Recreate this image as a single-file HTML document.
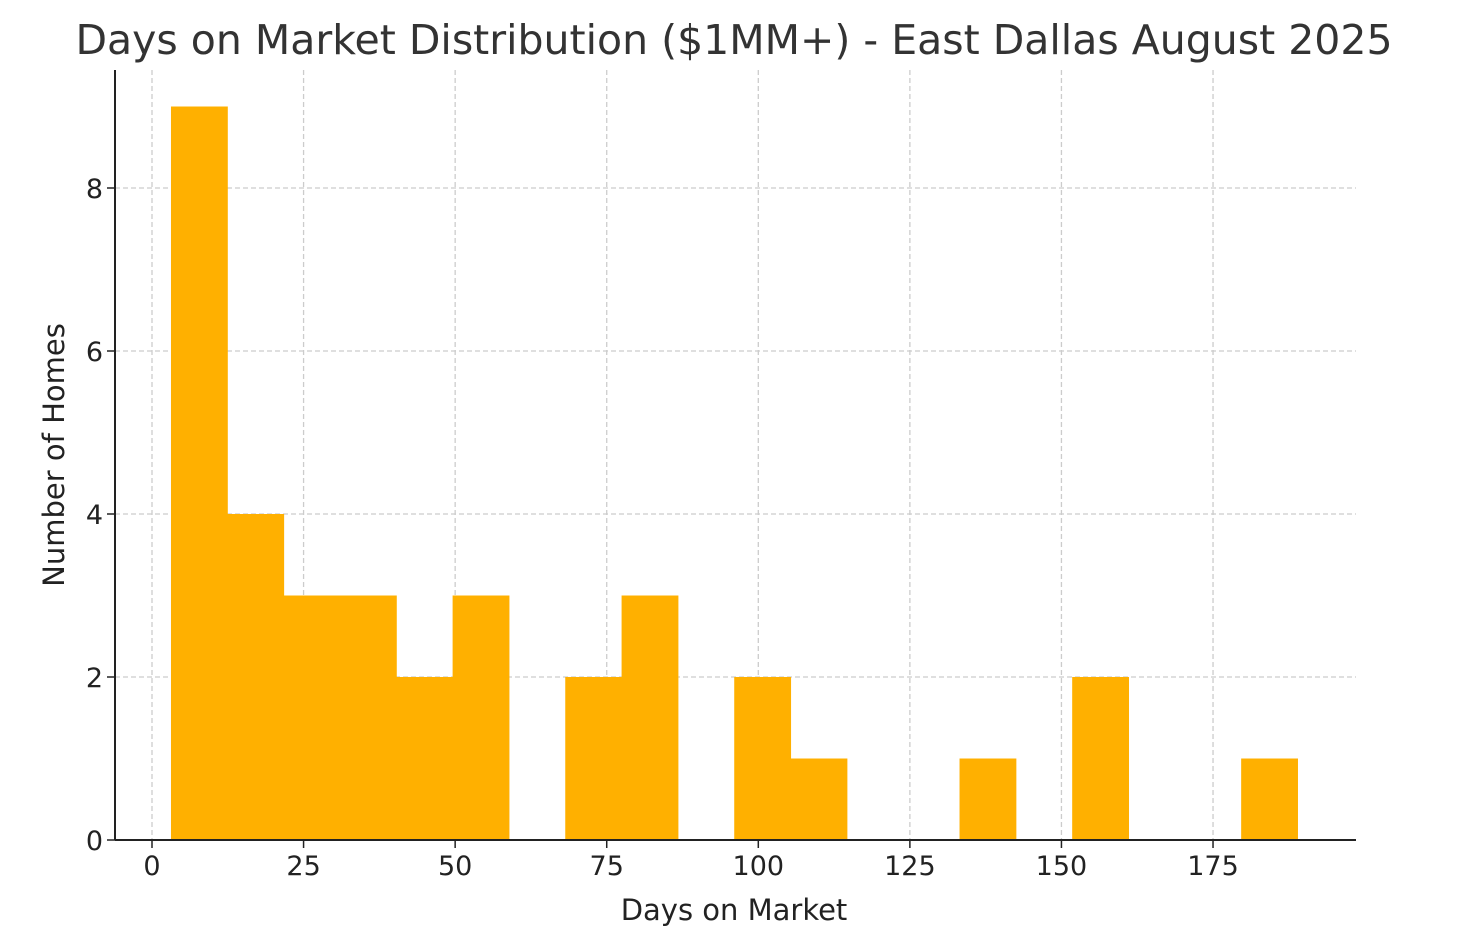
<!DOCTYPE html>
<html><head><meta charset="utf-8"><style>
body{margin:0;background:#fff;}
svg{display:block;font-family:"DejaVu Sans","Liberation Sans",sans-serif;}
</style></head><body>
<svg id="chart" width="1469" height="947">
<text x="734" y="54" text-anchor="middle" font-size="41" fill="#333">Days on Market Distribution ($1MM+) - East Dallas August 2025</text>
<g id="grid"></g><g id="bars"></g><g id="axes"></g>
<text x="734" y="920" text-anchor="middle" font-size="29" fill="#222">Days on Market</text>
<text transform="translate(64,455) rotate(-90)" text-anchor="middle" font-size="29" fill="#222">Number of Homes</text>
</svg>
<script>
const binStart = 3.13;
const binWidth = 9.29;
const counts = [9,4,3,3,2,3,0,2,3,0,2,1,0,0,1,0,2,0,0,1];
const xTicks = [0,25,50,75,100,125,150,175];
const yTicks = [0,2,4,6,8];
const NS='http://www.w3.org/2000/svg';
const L=115,R=1356,T=70,B=840;
const x=v=>152+v*6.063;
const y=v=>840-v*81.5;
function mk(tag,attrs,parent){const e=document.createElementNS(NS,tag);for(const k in attrs)e.setAttribute(k,attrs[k]);document.getElementById(parent).appendChild(e);return e;}
xTicks.forEach(t=>{
 const g=mk('line',{x1:x(t),x2:x(t),y1:T,y2:B,stroke:'#ccc','stroke-width':1.3,'stroke-dasharray':'5,3'},'grid');
 
 
 const tk=mk('line',{x1:x(t),x2:x(t),y1:B,y2:B+8,stroke:'#222','stroke-width':1.5},'axes');
 
 
 const lb=mk('text',{x:x(t),y:875,'text-anchor':'middle','font-size':27,fill:'#222'},'axes');
 lb.textContent=t;
 
 
});
yTicks.forEach(t=>{
 const g=mk('line',{x1:L,x2:R,y1:y(t),y2:y(t),stroke:'#ccc','stroke-width':1.3,'stroke-dasharray':'5,3'},'grid');
 
 
 const tk=mk('line',{x1:L-8,x2:L,y1:y(t),y2:y(t),stroke:'#222','stroke-width':1.5},'axes');
 
 
 const lb=mk('text',{x:L-12,y:y(t)+10,'text-anchor':'end','font-size':27,fill:'#222'},'axes');
 lb.textContent=t;
 
 
});
counts.forEach((c,i)=>{
 if(!c)return;
 const x0=x(binStart+i*binWidth),x1=x(binStart+(i+1)*binWidth);
 const r=mk('rect',{x:x0,y:y(c),width:x1-x0+0.5,height:B-y(c),fill:'#FFB000'},'bars');
 
 
});
const ax=mk('line',{x1:L,x2:L,y1:T,y2:B,stroke:'#222','stroke-width':2},'axes');


const bx=mk('line',{x1:L,x2:R,y1:B,y2:B,stroke:'#222','stroke-width':2},'axes');


</script>
</body></html>
